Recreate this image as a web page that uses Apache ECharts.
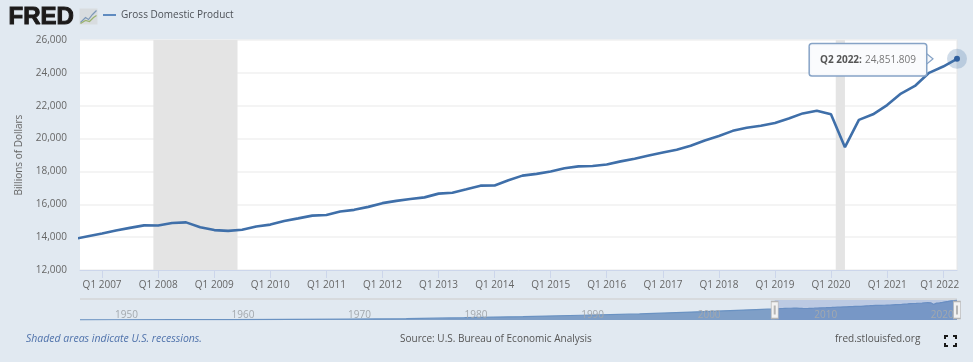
<!DOCTYPE html>
<html><head><meta charset="utf-8">
<style>html,body{margin:0;padding:0;background:#e1e9f1}#c{width:973px;height:362px}</style>
<script src="https://cdn.jsdelivr.net/npm/echarts@6/dist/echarts.min.js"></script>
</head><body><div id="c"></div>
<script>
// Quarterly GDP, billions of dollars, first quarter = Q3 2006
const firstYear = 2006, firstQuarterIndex = 2;
const gdpValues = [13880,14050,14216,14402,14564,14715,14706,14865,14899,14608,14430,14381,14448,14651,14764,14980,15142,15310,15351,15558,15662,15842,16069,16207,16319,16421,16649,16700,16911,17133,17144,17462,17744,17853,17992,18193,18307,18332,18425,18611,18775,18968,19153,19322,19558,19883,20155,20470,20656,20779,20949,21217,21532,21694,21481,19477,21138,21478,22038,22741,23202,24002,24386,24851.809];
// Long-run history shown in the navigator strip
const historyYears = [1947,1950,1955,1960,1965,1970,1975,1980,1985,1990,1995,2000,2005];
const historyValues = [243,299,426,543,743,1074,1685,2857,4339,5963,7640,10250,13039];
const tickYears = [2007,2008,2009,2010,2011,2012,2013,2014,2015,2016,2017,2018,2019,2020,2021,2022];
const navTickYears = [1950,1960,1970,1980,1990,2000,2010,2020];
const recessions = [['2007-12-01','2009-06-01'],['2020-02-01','2020-04-01']];
const seriesName = 'Gross Domestic Product';
const lastLabel = 'Q2 2022';

const FONT = '"Open Sans", sans-serif';
const t = s => Date.parse(s + 'T00:00:00Z');
const y0 = y => Date.UTC(y, 0, 1);
const gdp = gdpValues.map((v, i) => [Date.UTC(firstYear, firstQuarterIndex * 3 + i * 3, 1), v]);
const last = gdp[gdp.length - 1];
const nav = historyYears.map((y, i) => [y0(y), historyValues[i]]).concat(gdp);
const selStart = t('2006-08-10');
const fmt = v => v.toLocaleString('en-US', {minimumFractionDigits: 3});
const lastTickYear = tickYears[tickYears.length - 1];

const chart = echarts.init(document.getElementById('c'), null, {renderer: 'canvas'});
const corner = (x, y, dx, dy) => ({type: 'polyline', shape: {points: [[x + dx, y], [x, y], [x, y + dy]]}, style: {stroke: '#1a1a1a', lineWidth: 2, fill: null}});
chart.setOption({
  animation: false,
  backgroundColor: '#e1e9f1',
  textStyle: {fontFamily: FONT},
  legend: {
    left: 98, top: 5, data: [{name: seriesName}], icon: 'rect', itemWidth: 13, itemHeight: 2, itemGap: 4,
    textStyle: {fontFamily: FONT, fontSize: 10, color: '#4d5157', fontWeight: 500}
  },
  grid: [
    {left: 80, right: 16, top: 40, height: 230, show: true, backgroundColor: '#fff', borderWidth: 0},
    {left: 80, right: 16, top: 300, height: 20}
  ],
  xAxis: [
    {type: 'value', gridIndex: 0, min: selStart, max: last[0], scale: true,
      axisLine: {onZero: false, lineStyle: {color: '#ccd6eb'}},
      axisTick: {show: true, length: 8, lineStyle: {color: '#ccd6eb'}, customValues: tickYears.map(y0)},
      axisLabel: {customValues: tickYears.map(y0),
        formatter: v => { const y = new Date(v).getUTCFullYear(); return y === lastTickYear ? '{end|Q1 ' + y + '}' : 'Q1 ' + y; },
        rich: {end: {color: '#666', fontSize: 10, fontFamily: FONT, padding: [0, 7, 0, 0]}},
        color: '#666', fontSize: 10, margin: 10, hideOverlap: false},
      splitLine: {show: false}},
    {type: 'value', gridIndex: 1, min: y0(1947), max: last[0], scale: true, z: 6,
      axisLine: {show: false}, axisTick: {show: false}, splitLine: {show: false},
      axisLabel: {inside: true, customValues: navTickYears.map(y0), formatter: v => String(new Date(v).getUTCFullYear()), color: '#a3a8ad', fontSize: 10, align: 'left', margin: 0}}
  ],
  yAxis: [
    {type: 'value', gridIndex: 0, min: 12000, max: 26000, interval: 2000,
      name: 'Billions of Dollars', nameLocation: 'middle', nameGap: 56, nameTextStyle: {color: '#666', fontSize: 10},
      axisLine: {show: false}, axisTick: {show: false},
      axisLabel: {formatter: v => v.toLocaleString('en-US'), color: '#666', fontSize: 10, margin: 13},
      splitLine: {lineStyle: {color: '#f0f0f0', width: 1.5}}},
    {type: 'value', gridIndex: 1, min: 0, max: 25000, show: false, splitLine: {show: false}}
  ],
  series: [
    {name: seriesName, type: 'line', xAxisIndex: 0, yAxisIndex: 0, data: gdp, showSymbol: false, z: 5,
      color: '#5f8bc0',
      lineStyle: {color: '#3f6fa9', width: 2.6},
      markArea: {silent: true, z: 1, itemStyle: {color: '#e4e4e4'}, data: recessions.map(r => [{xAxis: t(r[0])}, {xAxis: t(r[1])}])},
      markPoint: {
        silent: true, z: 10,
        data: [
          {coord: last, symbol: 'circle', symbolSize: 20, itemStyle: {color: 'rgba(69,114,167,0.25)'}, label: {show: false}},
          {coord: last, symbol: 'triangle', symbolSize: [13, 8], symbolRotate: -90, symbolOffset: [-28, 0], itemStyle: {color: '#f6f8fb', borderColor: '#86a3c6', borderWidth: 1}, label: {show: false}},
          {coord: last, symbol: 'circle', symbolSize: 6, itemStyle: {color: '#2f5f9e'},
            label: {show: true, position: 'left', distance: 28, offset: [0, 1],
              formatter: '{b|' + lastLabel + ':} {v|' + fmt(last[1]) + '}',
              backgroundColor: 'rgba(250,251,253,0.97)', borderColor: '#86a3c6', borderWidth: 1.5, borderRadius: 2,
              padding: [9, 10, 8, 10],
              rich: {b: {fontFamily: FONT, fontWeight: 700, fontSize: 10, color: '#555', lineHeight: 14}, v: {fontFamily: FONT, fontSize: 10, color: '#777', lineHeight: 14}}}}
        ]
      }},
    {name: 'Navigator', type: 'line', xAxisIndex: 1, yAxisIndex: 1, data: nav, showSymbol: false, z: 3,
      lineStyle: {color: '#6a92c2', width: 1.2}, areaStyle: {color: '#7f9fc7', opacity: 1},
      markArea: {silent: true, z: 4, itemStyle: {color: 'rgba(102,133,194,0.3)'}, data: [[{xAxis: selStart}, {xAxis: last[0]}]]},
      markPoint: {
        silent: true, z: 10, label: {show: false},
        data: [selStart, last[0]].flatMap(x => [
          {coord: [x, 12500], symbol: 'rect', symbolSize: [7, 17], itemStyle: {color: '#f2f2f2', borderColor: '#b5b5b5', borderWidth: 1}},
          {coord: [x, 12500], symbol: 'rect', symbolSize: [2, 9], itemStyle: {color: '#b5b5b5'}}
        ])
      }}
  ],
  graphic: [
    {type: 'text', left: 8, top: 5, style: {text: 'FRED', font: '900 24px "Liberation Sans", sans-serif', fill: '#1c1a1a', stroke: '#1c1a1a', lineWidth: 1}},
    {type: 'group', left: 78, top: 8, children: [
      {type: 'rect', shape: {x: 0, y: 0, width: 18, height: 16}, style: {fill: '#d8dcdf'}},
      {type: 'polyline', shape: {points: [[1, 14], [6, 9], [9, 11], [13, 6], [17, 2]]}, style: {stroke: '#7d98b8', lineWidth: 1.2, fill: null}},
      {type: 'polyline', shape: {points: [[1, 15], [6, 12], [10, 13], [14, 9], [17, 7]]}, style: {stroke: '#9ab36f', lineWidth: 1.2, fill: null}}
    ]},
    {type: 'line', shape: {x1: 80, y1: 299, x2: 957, y2: 299}, style: {stroke: '#d7dadd', lineWidth: 2}},
    {type: 'line', shape: {x1: 957, y1: 40, x2: 957, y2: 270}, style: {stroke: '#e6e6e6', lineWidth: 1}},
    {type: 'text', left: 26, top: 334, style: {text: 'Shaded areas indicate U.S. recessions.', font: 'italic 10.5px "Open Sans", sans-serif', fill: '#4f72ab'}},
    {type: 'text', left: 400, top: 334, style: {text: 'Source: U.S. Bureau of Economic Analysis', font: '10px "Open Sans", sans-serif', fill: '#555'}},
    {type: 'text', left: 835, top: 334, style: {text: 'fred.stlouisfed.org', font: '10px "Open Sans", sans-serif', fill: '#555'}},
    corner(945, 336, 3, 3), corner(956, 336, -3, 3), corner(945, 346, 3, -3), corner(956, 346, -3, -3)
  ]
});
</script></body></html>
